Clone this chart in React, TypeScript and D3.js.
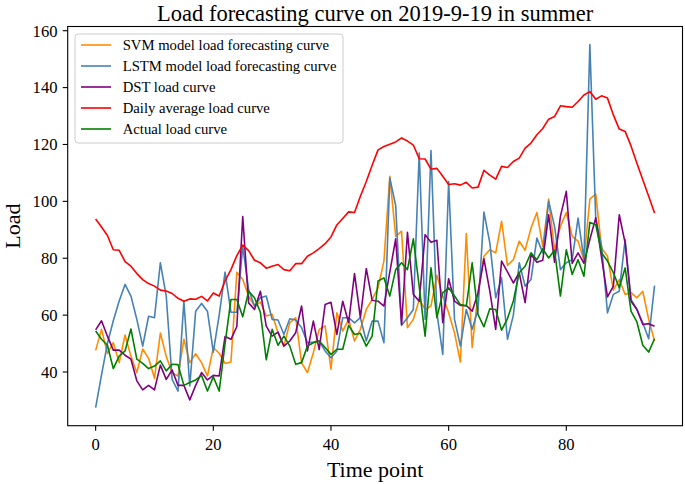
import React from "react";
import * as d3 from "d3";

const title = "Load forecasting curve on 2019-9-19 in summer";
const xTicks = [0, 20, 40, 60, 80];
const yTicks = [40, 60, 80, 100, 120, 140, 160];

const svmLoad = [47.6, 55.0, 46.5, 50.3, 43.3, 53.0, 45.5, 39.8, 48.1, 44.8, 37.8, 53.7, 45.5, 39.7, 38.6, 51.5, 43.3, 46.4, 43.3, 38.6, 48.6, 46.6, 43.0, 43.5, 75.1, 72.5, 66.7, 63.2, 64.6, 59.7, 60.3, 53.8, 49.1, 57.3, 59.1, 43.3, 39.8, 46.8, 55.0, 56.2, 41.0, 60.8, 54.4, 58.5, 50.9, 55.0, 62.0, 65.5, 69.6, 79.0, 108.8, 87.7, 89.5, 55.6, 58.5, 65.5, 62.0, 63.2, 74.0, 66.7, 60.8, 53.8, 43.5, 88.7, 48.6, 67.8, 80.7, 83.0, 81.9, 93.0, 77.5, 79.5, 86.0, 82.8, 90.6, 96.1, 84.2, 100.8, 83.0, 91.2, 96.1, 87.7, 86.0, 79.3, 100.8, 102.6, 83.6, 80.7, 68.8, 72.5, 67.3, 67.9, 66.1, 68.4, 58.5, 50.9];
const lstmLoad = [27.5, 39, 50, 58, 65, 70.8, 66.7, 58.5, 49.1, 59.6, 59.1, 78.4, 66.7, 37.4, 33.3, 64.9, 35.1, 61.4, 64.1, 61.4, 47, 60, 75.1, 61.0, 61.0, 84.2, 69.0, 63.2, 66.1, 66.7, 58.5, 58.3, 53.2, 58.7, 58.3, 55.6, 50.3, 50.5, 50.9, 47.4, 45.0, 47.4, 59.1, 59.1, 57.3, 59.1, 50.9, 57.9, 57.9, 50.3, 108.2, 98.5, 56.4, 59.1, 62.0, 117.0, 58.5, 117.9, 60.8, 46.2, 107.0, 58.5, 49.1, 62.0, 55.0, 62.0, 96.2, 85.4, 66.1, 73.1, 51.5, 60.0, 78.4, 70.2, 72.5, 87.1, 81.9, 100.0, 91.2, 76.0, 78.4, 79.5, 94.1, 79.5, 155.1, 94.0, 84.2, 60.8, 67.3, 68.4, 86.6, 65.5, 62.0, 57.3, 51.7, 70.4];
const dstLoad = [54.8, 58.0, 52.6, 47.7, 47.7, 45.9, 44.5, 36.9, 33.7, 35.3, 33.7, 42.4, 37.4, 40.7, 35.3, 35.3, 30.2, 35.3, 39.8, 37.2, 38.8, 38.6, 52.5, 51.5, 56, 94.7, 64.3, 62.0, 68.4, 56.1, 52.6, 54.0, 49.1, 50.9, 53.8, 63.2, 47.4, 57.9, 47.9, 63.7, 64.5, 53.2, 64.9, 57.3, 74.6, 59.1, 76.4, 65.2, 64.9, 63.2, 75.1, 86.8, 56.7, 89.1, 67.3, 64.9, 88.3, 85.6, 86.3, 57.3, 72.8, 64.9, 63.4, 63.4, 61.4, 67.8, 79.8, 68.4, 55.0, 79.0, 75.2, 71.3, 74.9, 64.4, 81.3, 78.6, 79.3, 95.3, 78.6, 94.7, 103.5, 78.2, 81.9, 78.2, 86.6, 94.2, 80.1, 66.4, 70.2, 95.3, 85.4, 64.9, 62.0, 56.7, 57.0, 56.1];
const dailyAvgLoad = [93.8, 91.0, 88.0, 83.0, 82.8, 78.8, 77.2, 74.6, 72.5, 71.1, 70.2, 68.8, 68.5, 67.6, 65.9, 64.9, 65.7, 65.6, 66.6, 65.0, 67.8, 66.7, 72.0, 76.0, 80.9, 84.6, 82.7, 79.3, 78.4, 76.5, 77.2, 77.8, 76.0, 75.6, 78.1, 78.1, 80.7, 81.9, 83.4, 85.1, 87.5, 91.7, 94.0, 96.3, 96.1, 101.8, 107.0, 112.7, 118.1, 119.3, 120.1, 120.9, 122.3, 121.2, 119.8, 115.0, 114.9, 111.3, 111.6, 108.8, 105.9, 106.2, 105.7, 106.7, 104.7, 105.0, 110.9, 109.2, 107.8, 112.3, 111.9, 114.0, 115.2, 118.7, 120.5, 123.4, 125.6, 128.9, 129.8, 133.6, 133.3, 133.1, 135.1, 137.4, 138.6, 135.9, 137.1, 136.3, 130.4, 125.4, 124.6, 119.5, 113.4, 107.6, 101.8, 95.9];
const actualLoad = [54.4, 51.5, 49.4, 41.2, 45.6, 47.4, 55.1, 44.5, 43.0, 41.2, 42.1, 43.9, 40.4, 42.7, 42.6, 35.3, 36.3, 37.2, 38.8, 33.3, 38.3, 33.3, 50.0, 65.5, 65.5, 59.4, 68.4, 66.1, 61.0, 44.3, 55.0, 49.4, 52.6, 49.1, 42.7, 43.3, 49.1, 50.3, 50.9, 48.6, 46.2, 48.0, 48.0, 56.4, 53.2, 53.6, 49.1, 52.6, 72.0, 73.1, 66.7, 76.0, 78.4, 76.0, 86.8, 70.0, 52.6, 76.6, 59.1, 67.8, 69.6, 66.7, 63.7, 63.2, 78.4, 60.2, 55.9, 62.2, 62.0, 54.7, 58.8, 65.0, 74.9, 77.2, 81.9, 79.5, 83.3, 80.1, 82.8, 66.7, 83.0, 74.3, 79.5, 73.7, 92.6, 91.8, 81.9, 79.0, 74.9, 69.6, 76.6, 61.4, 57.6, 49.4, 47.0, 51.7];

const seriesNames = [
  "SVM model load forecasting curve",
  "LSTM model load forecasting curve",
  "DST load curve",
  "Daily average load curve",
  "Actual load curve",
];
const seriesColors = ["#ff8c00", "#4682b4", "#800080", "#ff0000", "#008000"];
const seriesData = [svmLoad, lstmLoad, dstLoad, dailyAvgLoad, actualLoad];

const W = 685;
const H = 484;
const L = 67.7;
const R = 682.5;
const T = 26.5;
const B = 425.7;
const FONT = "'Liberation Serif', 'Times New Roman', 'DejaVu Serif', serif";

export default function App() {
  const n = svmLoad.length;
  const all = seriesData.flat();
  const dmin = d3.min(all)!;
  const dmax = d3.max(all)!;
  const ym = (dmax - dmin) * 0.05;
  const xm = (n - 1) * 0.05;
  const x = d3.scaleLinear().domain([-xm, n - 1 + xm]).range([L, R]);
  const y = d3.scaleLinear().domain([dmin - ym, dmax + ym]).range([B, T]);
  const line = d3
    .line<number>()
    .x((_, i) => x(i))
    .y((d) => y(d));

  const legX = 75;
  const legY = 34;
  const legW = 268;
  const legH = 109;
  const rowH = 21;

  return (
    <svg
      width={W}
      height={H}
      style={{ position: "absolute", left: 0, top: 0, background: "#fff" }}
      fontFamily={FONT}
    >
      <rect x={0} y={0} width={W} height={H} fill="#fff" />
      <text x={(L + R) / 2} y={21} textAnchor="middle" fontSize={22.5} fill="#000">
        {title}
      </text>
      {seriesData.map((d, k) => (
        <path
          key={k}
          d={line(d) || ""}
          fill="none"
          stroke={seriesColors[k]}
          strokeWidth={1.6}
          strokeLinejoin="round"
        />
      ))}
      <rect x={L} y={T} width={R - L} height={B - T} fill="none" stroke="#000" strokeWidth={1.1} />
      {xTicks.map((t) => (
        <g key={"x" + t}>
          <line x1={x(t)} x2={x(t)} y1={B} y2={B + 5} stroke="#000" strokeWidth={1.1} />
          <text x={x(t)} y={450} textAnchor="middle" fontSize={16.6} fill="#000">
            {t}
          </text>
        </g>
      ))}
      {yTicks.map((t) => (
        <g key={"y" + t}>
          <line x1={L - 5} x2={L} y1={y(t)} y2={y(t)} stroke="#000" strokeWidth={1.1} />
          <text x={57.5} y={y(t) + 5.8} textAnchor="end" fontSize={16.6} fill="#000">
            {t}
          </text>
        </g>
      ))}
      <text x={(L + R) / 2} y={477} textAnchor="middle" fontSize={22} fill="#000">
        Time point
      </text>
      <text
        transform={`translate(20,${(T + B) / 2}) rotate(-90)`}
        textAnchor="middle"
        fontSize={22}
        fill="#000"
      >
        Load
      </text>
      <rect
        x={legX}
        y={legY}
        width={legW}
        height={legH}
        rx={3}
        fill="#fff"
        fillOpacity={0.8}
        stroke="#cccccc"
        strokeWidth={1}
      />
      {seriesNames.map((name, k) => {
        const cy = 45 + k * rowH;
        return (
          <g key={name}>
            <line x1={81} x2={111} y1={cy} y2={cy} stroke={seriesColors[k]} strokeWidth={1.6} />
            <text x={122.7} y={cy + 5} fontSize={14.7} fill="#000">
              {name}
            </text>
          </g>
        );
      })}
    </svg>
  );
}
